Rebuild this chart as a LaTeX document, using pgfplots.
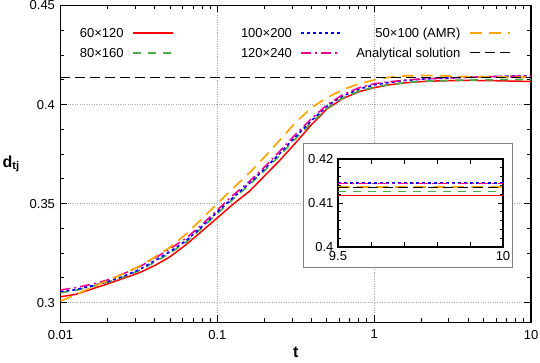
\documentclass[border=0pt]{standalone}
\usepackage{fontspec}
\setmainfont{Liberation Sans}
\usepackage{pgfplots}
\pgfplotsset{compat=1.18}
\definecolor{cgreen}{RGB}{77,170,77}
\definecolor{corange}{RGB}{255,165,0}
\begin{document}
\begin{tikzpicture}[font=\fontsize{13}{15}\selectfont]
\useasboundingbox (-60.5pt,-40.5pt) rectangle (479.5pt,322.5pt);
\tikzset{
  sred/.style={red, line width=1.5pt},
  sgreen/.style={cgreen, line width=1.7pt, dash pattern=on 8pt off 7pt},
  sblue/.style={blue, line width=1.7pt, dash pattern=on 3pt off 3pt},
  smag/.style={magenta, line width=1.5pt, dash pattern=on 10pt off 4pt on 2pt off 4pt},
  sorange/.style={corange, line width=1.7pt, dash pattern=on 12pt off 7pt},
  sblack/.style={black, line width=0.8pt, dash pattern=on 10pt off 5pt},
}
\begin{axis}[
  at={(0pt,0pt)}, anchor=south west, scale only axis,
  width=470.5pt, height=317pt,
  xmode=log, xmin=0.01, xmax=10, ymin=0.29, ymax=0.45,
  xtick={0.01,0.1,1,10}, xticklabels={0.01,0.1,1,10},
  minor xtick={0.02,0.03,0.04,0.05,0.06,0.07,0.08,0.09,0.2,0.3,0.4,0.5,0.6,0.7,0.8,0.9,2,3,4,5,6,7,8,9},
  ytick={0.3,0.35,0.4,0.45}, yticklabels={0.3,0.35,0.4,0.45},
  minor y tick num=3,
  tick align=inside, major tick length=7pt, minor tick length=4pt,
  every tick/.style={black, line width=1pt},
  axis line style={line width=1.6pt},
  grid=major, major grid style={gray!70, dotted, line width=0.6pt},
  xticklabel style={yshift=-4pt},
  yticklabel style={xshift=-2pt},
  xlabel={\fontsize{16}{18}\selectfont\textbf{t}},
  xlabel style={at={(axis description cs:0.5,-0.095)}, anchor=center},
  ylabel={\fontsize{16}{18}\selectfont\textbf{d}\textsubscript{\textbf{tj}}},
  ylabel style={rotate=-90, at={(axis description cs:-0.105,0.5)}, anchor=center},
  legend columns=3, legend plot pos=right, legend cell align=right,
  legend image code/.code={\draw[#1] (0pt,0pt) -- (39.7pt,0pt);},
  legend style={draw=none, fill=none, inner sep=0pt, column sep=8.6pt, row sep=7pt,
    nodes={inner sep=0pt, text height=11pt, text depth=2pt},
    at={(axis description cs:0.9566,0.9347)}, anchor=north east},
]
% 60x120
\addplot[sred, forget plot] coordinates {
(0.01,0.3030) (0.0125,0.3042) (0.016,0.3070) (0.02,0.3095) (0.025,0.3122) (0.032,0.3152) (0.04,0.3188) (0.05,0.3232) (0.063,0.3292) (0.08,0.3362) (0.1,0.3428) (0.125,0.3495) (0.16,0.3562) (0.2,0.3640) (0.25,0.3718) (0.32,0.3812) (0.4,0.3900) (0.5,0.3978) (0.63,0.4030) (0.8,0.4065) (1,0.4085) (1.25,0.4100) (1.6,0.4110) (2,0.4116) (2.5,0.4119) (3.2,0.4121) (4,0.4122) (5,0.4121) (6.3,0.4120) (8,0.4118) (10,0.4117)};
% 80x160
\addplot[sgreen, forget plot] coordinates {
(0.01,0.3050) (0.0125,0.3062) (0.016,0.3082) (0.02,0.3103) (0.025,0.3128) (0.032,0.3163) (0.04,0.3205) (0.05,0.3250) (0.063,0.3305) (0.08,0.3378) (0.1,0.3450) (0.125,0.3520) (0.16,0.3595) (0.2,0.3666) (0.25,0.3743) (0.32,0.3833) (0.4,0.3910) (0.5,0.3982) (0.63,0.4033) (0.8,0.4068) (1,0.4088) (1.25,0.4101) (1.6,0.4111) (2,0.4117) (2.5,0.4120) (3.2,0.4122) (4,0.4124) (5,0.4125) (6.3,0.4126) (8,0.4126) (10,0.4126)};
% 100x200
\addplot[sblue, forget plot] coordinates {
(0.01,0.3056) (0.0125,0.3066) (0.016,0.3086) (0.02,0.3106) (0.025,0.3132) (0.032,0.3168) (0.04,0.3212) (0.05,0.3258) (0.063,0.3312) (0.08,0.3385) (0.1,0.3458) (0.125,0.3528) (0.16,0.3603) (0.2,0.3675) (0.25,0.3753) (0.32,0.3843) (0.4,0.3920) (0.5,0.3992) (0.63,0.4043) (0.8,0.4078) (1,0.4099) (1.25,0.4112) (1.6,0.4122) (2,0.4128) (2.5,0.4132) (3.2,0.4135) (4,0.4138) (5,0.4140) (6.3,0.4142) (8,0.4144) (10,0.4145)};
% 120x240
\addplot[smag, forget plot] coordinates {
(0.01,0.3064) (0.0125,0.3076) (0.016,0.3094) (0.02,0.3115) (0.025,0.3145) (0.032,0.3182) (0.04,0.3225) (0.05,0.3272) (0.063,0.3325) (0.08,0.3395) (0.1,0.3468) (0.125,0.3540) (0.16,0.3612) (0.2,0.3685) (0.25,0.3765) (0.32,0.3855) (0.4,0.3930) (0.5,0.3998) (0.63,0.4050) (0.8,0.4085) (1,0.4105) (1.25,0.4115) (1.6,0.4124) (2,0.4129) (2.5,0.4132) (3.2,0.4135) (4,0.4138) (5,0.4140) (6.3,0.4142) (8,0.4143) (10,0.4144)};
% 50x100 AMR
\addplot[sorange, forget plot] coordinates {
(0.01,0.3009) (0.0125,0.3040) (0.016,0.3080) (0.02,0.3112) (0.025,0.3145) (0.032,0.3185) (0.04,0.3230) (0.05,0.3280) (0.063,0.3345) (0.08,0.3425) (0.1,0.3500) (0.125,0.3575) (0.16,0.3655) (0.2,0.3735) (0.25,0.3820) (0.32,0.3915) (0.4,0.3985) (0.5,0.4035) (0.63,0.4075) (0.8,0.4105) (1,0.4124) (1.25,0.4138) (1.6,0.4145) (2,0.4147) (2.5,0.4146) (3.2,0.4143) (4,0.4141) (5,0.4140) (6.3,0.4139) (8,0.4138) (10,0.4137)};
% analytical
\addplot[sblack, forget plot] coordinates {(0.01,0.4136) (10,0.4136)};
\addlegendimage{sred}\addlegendentry{\makebox[109.8pt][r]{60×120}}
\addlegendimage{sblue}\addlegendentry{\makebox[109.8pt][r]{100×200}}
\addlegendimage{sorange}\addlegendentry{\makebox[109.8pt][r]{50×100 (AMR)}}
\addlegendimage{sgreen}\addlegendentry{\makebox[109.8pt][r]{80×160}}
\addlegendimage{smag}\addlegendentry{\makebox[109.8pt][r]{120×240}}
\addlegendimage{sblack}\addlegendentry{\makebox[109.8pt][r]{Analytical solution}}
\end{axis}
\draw[gray, line width=1pt, fill=white] (242.5pt,54.5pt) rectangle (451.5pt,178.5pt);
\begin{axis}[
  at={(277.5pt,75.5pt)}, anchor=south west, scale only axis,
  width=165pt, height=88pt,
  xmin=9.5, xmax=10, ymin=0.4, ymax=0.42,
  xtick={9.5,9.6,9.7,9.8,9.9,10}, xticklabels={9.5,,,,,10},
  ytick={0.4,0.41,0.42}, yticklabels={0.4,0.41,0.42},
  minor y tick num=4,
  tick align=inside, major tick length=5pt, minor tick length=3pt,
  every tick/.style={black, line width=0.8pt},
  axis line style={line width=1.2pt},
  xticklabel style={yshift=-1pt},
  yticklabel style={xshift=-1pt},
]
\addplot[sred] coordinates {(9.5,0.4117) (10,0.4117)};
\addplot[sgreen] coordinates {(9.5,0.4126) (10,0.4126)};
\addplot[sblue] coordinates {(9.5,0.4145) (10,0.4145)};
\addplot[smag] coordinates {(9.5,0.4144) (10,0.4144)};
\addplot[sorange] coordinates {(9.5,0.4137) (10,0.4137)};
\addplot[sblack] coordinates {(9.5,0.4136) (10,0.4136)};
\end{axis}
\end{tikzpicture}
\end{document}
